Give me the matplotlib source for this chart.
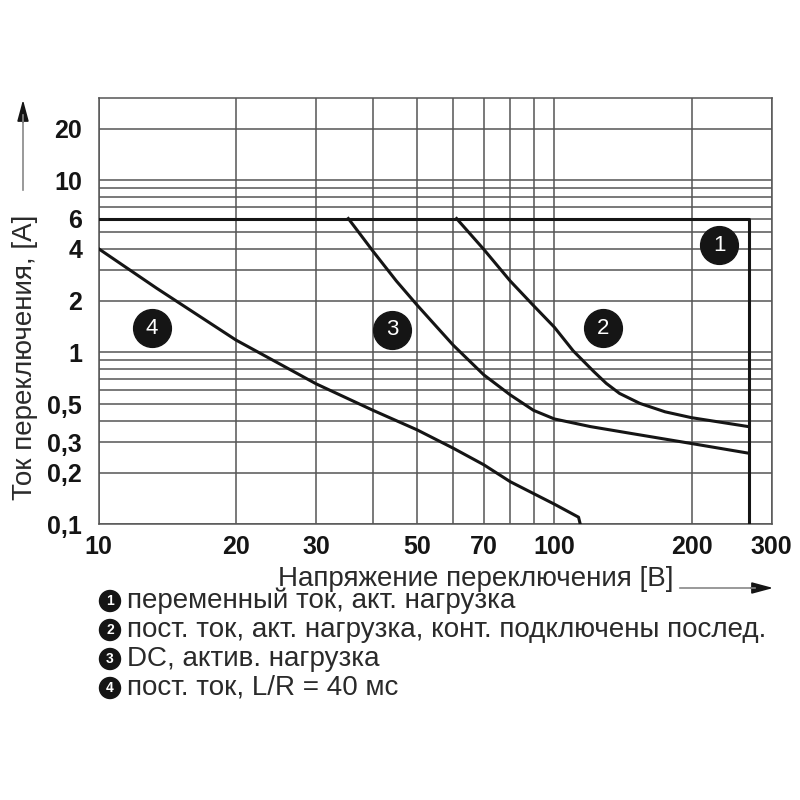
import matplotlib
matplotlib.use('Agg')
import matplotlib.pyplot as plt
from matplotlib.patches import Circle
from matplotlib.ticker import NullLocator

plt.rcParams['font.family'] = ['Liberation Sans', 'DejaVu Sans']

# switching voltage [V] / switching current [A]
# 1: AC, resistive load
ac_v = [10, 268, 268]
ac_i = [6.0, 6.0, 0.1]
# 2: DC, resistive load, contacts in series
dc_series_v = [61, 70, 80, 90, 100, 110, 122, 130, 139, 154, 175, 200, 265]
dc_series_i = [6.0, 3.97, 2.6, 1.87, 1.4, 1.02, 0.774, 0.66, 0.577, 0.505, 0.451, 0.417, 0.371]
# 3: DC, resistive load
dc_res_v = [35.3, 40, 45, 50, 55, 60, 70, 80, 90, 100, 120, 150, 200, 265]
dc_res_i = [6.0, 3.87, 2.6, 1.88, 1.42, 1.1, 0.74, 0.566, 0.46, 0.41, 0.37, 0.335, 0.295, 0.26]
# 4: DC, L/R = 40 ms
dc_ind_v = [10, 13.4, 20, 30, 40, 50, 60, 70, 80, 90, 100, 113, 114]
dc_ind_i = [4.0, 2.36, 1.18, 0.656, 0.46, 0.354, 0.277, 0.222, 0.177, 0.151, 0.131, 0.11, 0.1]

curve_numbers = ['1', '2', '3', '4']
marker_v = [230, 127.7, 44, 13.1]
marker_i = [4.19, 1.38, 1.35, 1.38]

x_grid = [10, 20, 30, 40, 50, 60, 70, 80, 90, 100, 200, 300]
x_labels = ['10', '20', '30', '', '50', '', '70', '', '', '100', '200', '300']
y_grid = [0.1, 0.2, 0.3, 0.4, 0.5, 0.6, 0.7, 0.8, 0.9, 1, 2, 3, 4, 5, 6, 7, 8, 9, 10, 20]
y_labels = ['0,1', '0,2', '0,3', '', '0,5', '', '', '', '', '1', '2', '', '4', '',
            '6', '', '', '', '10', '20']

legend_texts = [
    'переменный ток, акт. нагрузка',
    'пост. ток, акт. нагрузка, конт. подключены послед.',
    'DC, актив. нагрузка',
    'пост. ток, L/R = 40 мс',
]

GRID = '#555555'
INK = '#151515'
TEXT = '#2a2a2a'

fig = plt.figure(figsize=(8, 8), dpi=100)
ax = fig.add_axes([0.1234, 0.3446, 0.8413, 0.5325])
ax.set_xscale('log')
ax.set_yscale('log')
ax.set_xlim(10, 300)
ax.set_ylim(0.1, 30)

ax.set_xticks(x_grid)
ax.set_xticklabels(x_labels)
ax.set_yticks(y_grid)
ax.set_yticklabels(y_labels)
ax.xaxis.set_minor_locator(NullLocator())
ax.yaxis.set_minor_locator(NullLocator())
ax.tick_params(length=0, labelsize=18, labelcolor=INK)
ax.tick_params(axis='x', pad=8)
ax.tick_params(axis='y', pad=12)
for lab in ax.get_xticklabels() + ax.get_yticklabels():
    lab.set_fontweight('bold')

ax.grid(True, color=GRID, lw=1.1)
ax.set_axisbelow(True)
for sp in ax.spines.values():
    sp.set_color(GRID)
    sp.set_linewidth(1.1)

for v, i in [(ac_v, ac_i), (dc_series_v, dc_series_i),
             (dc_res_v, dc_res_i), (dc_ind_v, dc_ind_i)]:
    ax.plot(v, i, color=INK, lw=2.2, solid_joinstyle='round', zorder=3)

ax.scatter(marker_v, marker_i, s=740, color=INK, zorder=4)
for n, v, i in zip(curve_numbers, marker_v, marker_i):
    ax.text(v, i, n, color='white', fontsize=16, ha='center', va='center', zorder=5)

# axis titles with arrows
fig.text(25 / 800, 1 - 357 / 800, 'Ток переключения, [A]', rotation=90,
         ha='center', va='center', fontsize=20, color=TEXT)
fig.add_artist(plt.Line2D([23 / 800, 23 / 800], [1 - 190 / 800, 1 - 115 / 800],
                          color='#888888', lw=1.2))
ax.annotate('', xy=(23 / 800, 1 - 97 / 800), xytext=(23 / 800, 1 - 125 / 800),
            xycoords='figure fraction',
            arrowprops=dict(arrowstyle='-|>,head_length=1.3,head_width=0.35',
                            color=INK, lw=1.2))

fig.text(476 / 800, 1 - 579 / 800, 'Напряжение переключения [B]',
         ha='center', va='center', fontsize=20, color=TEXT)
fig.add_artist(plt.Line2D([680 / 800, 755 / 800], [1 - 588 / 800, 1 - 588 / 800],
                          color='#888888', lw=1.2))
ax.annotate('', xy=(776 / 800, 1 - 588 / 800), xytext=(748 / 800, 1 - 588 / 800),
            xycoords='figure fraction',
            arrowprops=dict(arrowstyle='-|>,head_length=1.3,head_width=0.35',
                            color=INK, lw=1.2))

# legend rows
row_y = [601, 630, 659, 688]
for n, txt, y in zip(curve_numbers, legend_texts, row_y):
    fig.add_artist(Circle((110 / 800, 1 - y / 800), 10.5 / 800, color=INK,
                          transform=fig.transFigure))
    fig.text(110 / 800, 1 - y / 800, n, color='white', fontsize=10,
             fontweight='bold', ha='center', va='center')
    fig.text(127 / 800, 1 - y / 800, txt, fontsize=20, color=TEXT,
             ha='left', va='center')

fig.savefig('out.png', dpi=100)
